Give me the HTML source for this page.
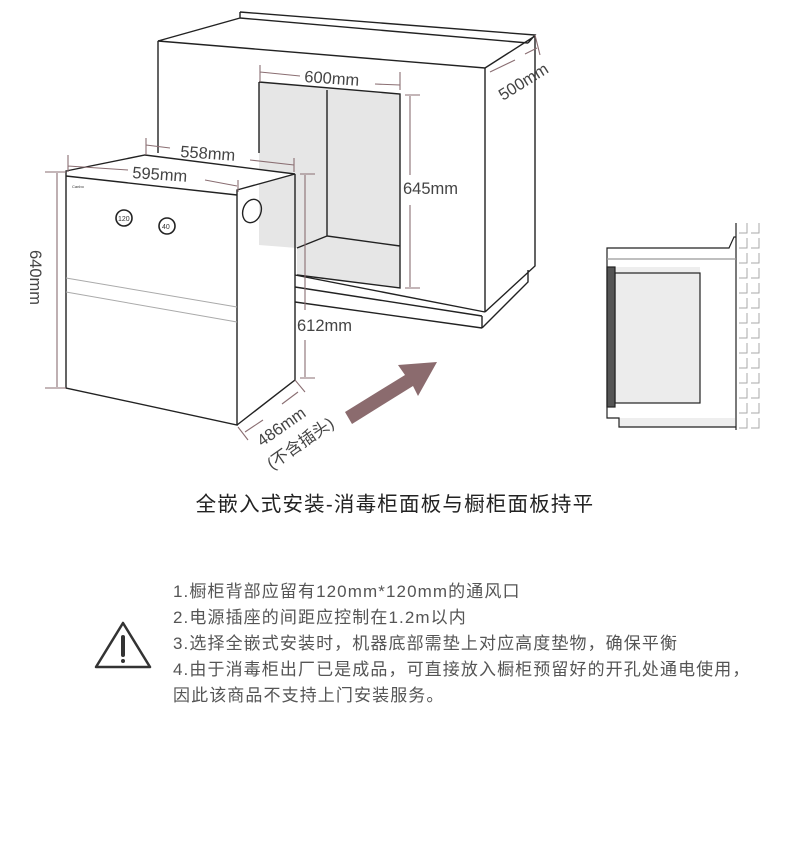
<!DOCTYPE html>
<html><head><meta charset="utf-8"><style>
html,body{margin:0;padding:0;background:#fff;width:790px;height:859px;overflow:hidden}
svg{display:block}
.t{font-family:"Liberation Sans","Noto Sans CJK SC",sans-serif}
</style></head><body>
<svg width="790" height="859" viewBox="0 0 790 859" xmlns="http://www.w3.org/2000/svg">
<g fill="none" stroke="#222" stroke-width="1.4">
<polygon points="259,82 400,94 400,288 297,275 297,248 259,245" fill="#e6e6e6" stroke="none"/>
<path d="M240,12 L535,35 L528,43 M240,12 L240,18 L158,41 L485,68 L535,36 M240,18 L528,43"/>
<path d="M158,41 L158,153 M485,68 L485,312 M535,36 L535,266 L485,312 M528,270 L528,282 L482,328"/>
<path d="M295,275 L485,312 M295,287 L482,316 M295,302 L482,328 M482,316 L482,328"/>
<path d="M259,82 L400,94 L400,288 L297,275 M259,82 L259,153 M327,90 L327,236 L400,246 M327,236 L297,248"/>
<polygon points="66,171 145,155 295,174 237,190 237,425 66,388" fill="#fff"/>
<path d="M295,174 L295,380 L237,425 M66,176 L237,195"/>
<path d="M66,278 L237,307 M66,292 L237,322" stroke="#aaa" stroke-width="1"/>
<ellipse cx="252" cy="211" rx="9" ry="12" transform="rotate(20 252 211)"/>
<circle cx="124" cy="218" r="8" stroke-width="1.6"/><circle cx="167" cy="226" r="8" stroke-width="1.6"/>
</g>
<g class="t" font-size="7" fill="#333"><text x="118" y="221">120</text><text x="162" y="229">40</text><text x="72" y="188" font-size="4">Canbo</text></g>
<g stroke="#8a6e72" stroke-width="1.1" fill="none">
<path d="M45,172 L66,172 M45,388 L66,388 M57,173 L57,387"/>
<path d="M68,155 L68,172 M238,180 L238,192 M68,166 L128,170 M205,180 L237,186"/>
<path d="M146,138 L146,155 M294,158 L294,172 M146,145 L170,148 M250,160 L294,165"/>
<path d="M260,65 L260,82 M260,72 L300,76 M375,84 L400,85 M400,72 L400,90"/>
<path d="M405,95 L420,95 M405,288 L420,288 M410,96 L410,175 M410,205 L410,287"/>
<path d="M300,174 L315,174 M300,378 L315,378 M305,175 L305,310 M305,340 L305,377"/>
<path d="M490,72 L515,60 M537,48 L525,54 M535,35 L540,55"/>
<path d="M238,427 L248,440 M295,380 L305,392 M245,432 L263,420 M282,404 L298,392"/>
</g>
<g class="t" fill="#444" font-size="16.5">
<text x="180" y="157" transform="rotate(4 180 157)">558mm</text>
<text x="132" y="178" transform="rotate(4 132 178)">595mm</text>
<text x="304" y="82" transform="rotate(4 304 82)">600mm</text>
<text x="403" y="194">645mm</text>
<text x="297" y="331">612mm</text>
<text x="30" y="250" transform="rotate(90 30 250)">640mm</text>
<text x="503" y="101" transform="rotate(-32 503 101)">500mm</text>
<text x="262" y="447" transform="rotate(-35 262 447)">486mm</text>
<text x="272" y="470" transform="rotate(-35 272 470)">(不含插头)</text>
</g>
<polygon points="345,412 405,375 398,365 437,362 418,396 413,386 352,424" fill="#8b6b6e"/>
<g fill="none" stroke="#222" stroke-width="1.2">
<rect x="619" y="418" width="116" height="9" fill="#eee" stroke="none"/>
<rect x="615" y="267" width="85" height="6" fill="#eee" stroke="none"/>
<rect x="615" y="273" width="85" height="130" fill="#ececec"/>
<rect x="607" y="267" width="8" height="140" fill="#555"/>
<path d="M736,223 L736,430 M736,237 L734,237 L729,248 L607,248 L607,418 L619,418 L619,427 L736,427"/>
<path d="M607,259 L736,259" stroke="#999"/>
</g>
<g fill="none" stroke="#aaa" stroke-width="1">
<path d="M747,223v10h-8M759,223v10h-8M747,238v10h-8M759,238v10h-8M747,253v10h-8M759,253v10h-8M747,268v10h-8M759,268v10h-8M747,283v10h-8M759,283v10h-8M747,298v10h-8M759,298v10h-8M747,313v10h-8M759,313v10h-8M747,328v10h-8M759,328v10h-8M747,343v10h-8M759,343v10h-8M747,358v10h-8M759,358v10h-8M747,373v10h-8M759,373v10h-8M747,388v10h-8M759,388v10h-8M747,403v10h-8M759,403v10h-8M747,418v10h-8M759,418v10h-8"/>
</g>
<text class="t" x="395" y="511" text-anchor="middle" font-size="20.5" letter-spacing="1.2" fill="#222">全嵌入式安装-消毒柜面板与橱柜面板持平</text>
<g class="t" font-size="17" letter-spacing="1.1" fill="#555">
<text x="173" y="597">1.橱柜背部应留有120mm*120mm的通风口</text>
<text x="173" y="623">2.电源插座的间距应控制在1.2m以内</text>
<text x="173" y="649">3.选择全嵌式安装时，机器底部需垫上对应高度垫物，确保平衡</text>
<text x="173" y="675">4.由于消毒柜出厂已是成品，可直接放入橱柜预留好的开孔处通电使用，</text>
<text x="173" y="701">因此该商品不支持上门安装服务。</text>
</g>
<polygon points="123,623 150,667 96,667" fill="none" stroke="#333" stroke-width="2.5" stroke-linejoin="round"/>
<path d="M123,637 L123,655" stroke="#333" stroke-width="4" stroke-linecap="round"/>
<circle cx="123" cy="661" r="2" fill="#333"/>
</svg>
</body></html>
